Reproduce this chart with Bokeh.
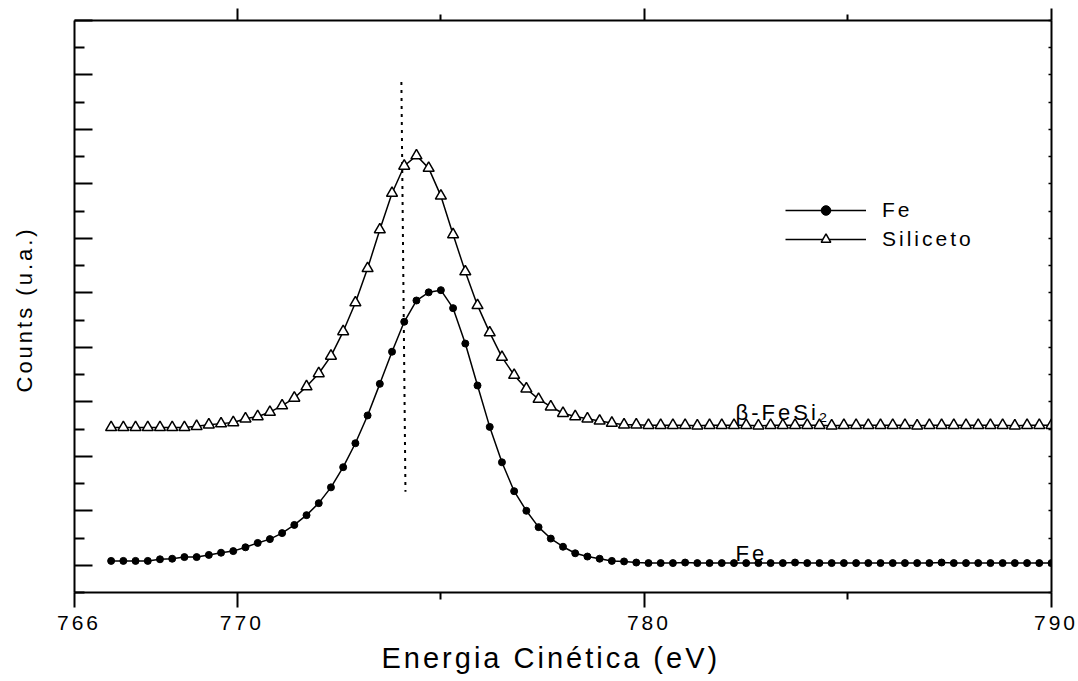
from bokeh.plotting import figure
from bokeh.models import (Range1d, FixedTicker, LinearAxis, Legend, LegendItem,
                          CustomJSTickFormatter, InlineStyleSheet, Title)
from bokeh.core.properties import value
from bokeh.embed import file_html
from bokeh.resources import INLINE

# ---------------- data ----------------
energy = [766.9, 767.2, 767.5, 767.8, 768.1, 768.4, 768.7, 769.0, 769.3, 769.6,
          769.9, 770.2, 770.5, 770.8, 771.1, 771.4, 771.7, 772.0, 772.3, 772.6,
          772.9, 773.2, 773.5, 773.8, 774.1, 774.4, 774.7, 775.0, 775.3, 775.6,
          775.9, 776.2, 776.5, 776.8, 777.1, 777.4, 777.7, 778.0, 778.3, 778.6,
          778.9, 779.2, 779.5, 779.8, 780.1, 780.4, 780.7, 781.0, 781.3, 781.6,
          781.9, 782.2, 782.5, 782.8, 783.1, 783.4, 783.7, 784.0, 784.3, 784.6,
          784.9, 785.2, 785.5, 785.8, 786.1, 786.4, 786.7, 787.0, 787.3, 787.6,
          787.9, 788.2, 788.5, 788.8, 789.1, 789.4, 789.7, 790.0]

fe_counts = [0.08, 0.08, 0.08, 0.08, 0.11, 0.12, 0.15, 0.15, 0.19, 0.23,
             0.26, 0.33, 0.41, 0.48, 0.59, 0.74, 0.92, 1.14, 1.43, 1.80,
             2.24, 2.75, 3.33, 3.92, 4.47, 4.86, 5.01, 5.05, 4.72, 4.07,
             3.30, 2.54, 1.89, 1.36, 1.00, 0.70, 0.49, 0.34, 0.22, 0.16,
             0.12, 0.08, 0.07, 0.05, 0.04, 0.04, 0.04, 0.05, 0.04, 0.04,
             0.04, 0.04, 0.04, 0.04, 0.04, 0.04, 0.05, 0.04, 0.04, 0.04,
             0.04, 0.04, 0.04, 0.04, 0.04, 0.04, 0.04, 0.04, 0.05, 0.04,
             0.04, 0.04, 0.04, 0.04, 0.04, 0.04, 0.04, 0.04]

siliceto_counts = [2.53, 2.53, 2.53, 2.53, 2.53, 2.53, 2.53, 2.55, 2.58, 2.60,
                   2.62, 2.69, 2.73, 2.81, 2.93, 3.07, 3.28, 3.52, 3.84, 4.29,
                   4.82, 5.45, 6.16, 6.83, 7.33, 7.52, 7.29, 6.78, 6.07, 5.39,
                   4.77, 4.27, 3.82, 3.49, 3.24, 3.05, 2.91, 2.79, 2.73, 2.69,
                   2.65, 2.61, 2.58, 2.58, 2.57, 2.57, 2.57, 2.57, 2.56, 2.57,
                   2.57, 2.57, 2.57, 2.56, 2.57, 2.57, 2.57, 2.57, 2.57, 2.56,
                   2.57, 2.57, 2.57, 2.57, 2.57, 2.57, 2.56, 2.57, 2.57, 2.57,
                   2.57, 2.57, 2.57, 2.57, 2.56, 2.57, 2.57, 2.57]

x_ticks = [766, 770, 780, 790]
x_tick_labels = ["766", "770", "780", "790"]
x_minor_ticks = [775, 785]
y_ticks = [0, 1, 2, 3, 4, 5, 6, 7, 8, 9, 10]
y_minor_ticks = [-0.5, 0.5, 1.5, 2.5, 3.5, 4.5, 5.5, 6.5, 7.5, 8.5, 9.5]

x_title = "Energia Cinética (eV)"
y_title = "Counts (u.a.)"

ref_line_x = [774.03, 774.13]
ref_line_y = [8.87, 1.35]

label_sil = ("β-FeSi₂", 782.24, 2.80)
label_fe = ("Fe", 782.24, 0.22)

FONT = "Liberation Sans"
LS = 3  # letter spacing in px (texts in the original are spaced out)

# ---------------- figure ----------------
p = figure(width=1078, height=681, output_backend="svg", toolbar_location=None,
           x_range=Range1d(766, 790), y_range=Range1d(-0.5, 10),
           min_border_left=74, min_border_right=27, min_border_top=20,
           min_border_bottom=89, x_axis_location=None, y_axis_location=None)
p.xgrid.visible = False
p.ygrid.visible = False
p.outline_line_color = None
p.background_fill_color = "white"
p.border_fill_color = "white"
p.stylesheets = [InlineStyleSheet(css=":host { letter-spacing: %dpx; }" % LS)]

blank = CustomJSTickFormatter(code="return ''")


def spacer_axis(tick, size):
    """An invisible axis used only to leave room between an axis and its title."""
    ax = LinearAxis(ticker=FixedTicker(ticks=[tick], minor_ticks=[]), formatter=blank)
    ax.axis_line_color = None
    ax.major_tick_line_color = None
    ax.minor_tick_line_color = None
    ax.major_tick_in = 0
    ax.major_tick_out = size
    ax.minor_tick_in = 0
    ax.minor_tick_out = 0
    ax.major_label_standoff = 0
    ax.major_label_text_font_size = "1px"
    return ax


# bottom axis
xb = LinearAxis(ticker=FixedTicker(ticks=x_ticks, minor_ticks=x_minor_ticks),
                major_label_overrides={t: l for t, l in zip(x_ticks, x_tick_labels)})
xb.major_label_text_font = FONT
xb.major_label_text_font_size = "21px"
xb.major_label_text_color = "black"
xb.major_label_standoff = 8
xb.major_tick_in = 0
xb.major_tick_out = 15
xb.minor_tick_in = 0
xb.minor_tick_out = 7
p.add_layout(xb, "below")

# top axis
xt = LinearAxis(ticker=FixedTicker(ticks=[770, 780, 790], minor_ticks=x_minor_ticks),
                formatter=blank)
xt.major_tick_in = 0
xt.major_tick_out = 12
xt.minor_tick_in = 0
xt.minor_tick_out = 6
xt.major_label_standoff = 0
xt.major_label_text_font_size = "1px"
p.add_layout(xt, "above")

# left axis
yl = LinearAxis(ticker=FixedTicker(ticks=y_ticks, minor_ticks=y_minor_ticks),
                formatter=blank)
yl.major_tick_in = 18
yl.major_tick_out = 0
yl.minor_tick_in = 10
yl.minor_tick_out = 0
yl.major_label_standoff = 0
yl.major_label_text_font_size = "1px"
p.add_layout(yl, "left")

# right axis
yr = LinearAxis(ticker=FixedTicker(ticks=y_ticks, minor_ticks=y_minor_ticks),
                formatter=blank)
yr.major_tick_in = 3
yr.major_tick_out = 0
yr.minor_tick_in = 3
yr.minor_tick_out = 0
yr.major_label_standoff = 0
yr.major_label_text_font_size = "1px"
p.add_layout(yr, "right")

for ax in (xb, xt, yl, yr):
    ax.axis_line_width = 2
    ax.axis_line_color = "black"
    ax.major_tick_line_width = 2
    ax.minor_tick_line_width = 2
    ax.major_tick_line_color = "black"
    ax.minor_tick_line_color = "black"
yr.major_tick_line_width = 1.5
yr.minor_tick_line_width = 1.5

# spacers between the axes and their titles
p.add_layout(spacer_axis(778, 9), "below")
p.add_layout(spacer_axis(5, 36), "left")

# axis titles (placed from the frame edge so that the letter spacing is accounted for)
p.add_layout(Title(text=x_title, align="left", vertical_align="top",
                   offset=307, standoff=0,
                   text_font=FONT, text_font_size="29px", text_font_style="normal",
                   text_color="black"), "below")
p.add_layout(Title(text=y_title, align="left", vertical_align="top",
                   offset=200, standoff=0,
                   text_font=FONT, text_font_size="22px", text_font_style="normal",
                   text_color="black"), "left")

# reference dotted line
p.line(ref_line_x, ref_line_y, line_color="black", line_width=2, line_dash="3 5")

# series
fe_line = p.line(energy, fe_counts, line_color="black", line_width=1.5)
fe_pts = p.scatter(energy, fe_counts, marker="circle", size=7,
                   fill_color="black", line_color="black", line_width=1)
si_line = p.line(energy, siliceto_counts, line_color="black", line_width=1.5)
si_pts = p.scatter(energy, siliceto_counts, marker="triangle", size=11,
                   fill_color="white", line_color="black", line_width=1.5)

# text labels
for txt, tx, ty in (label_sil, label_fe):
    p.text(x=[tx], y=[ty], text=[txt], text_font=value(FONT), text_font_size="22px",
           text_color="black", text_align="left", text_baseline="alphabetic")

legend = Legend(items=[LegendItem(label="Fe", renderers=[fe_line, fe_pts]),
                       LegendItem(label="Siliceto", renderers=[si_line, si_pts])],
                location=(711, 341), orientation="vertical")
legend.glyph_width = 81
legend.glyph_height = 24
legend.label_height = 24
legend.label_standoff = 16
legend.spacing = 5
legend.padding = 0
legend.margin = 0
legend.border_line_color = None
legend.background_fill_color = None
legend.label_text_font = FONT
legend.label_text_font_size = "21px"
legend.label_text_color = "black"
p.add_layout(legend, "center")

open("out.html", "w").write(file_html(p, INLINE))
